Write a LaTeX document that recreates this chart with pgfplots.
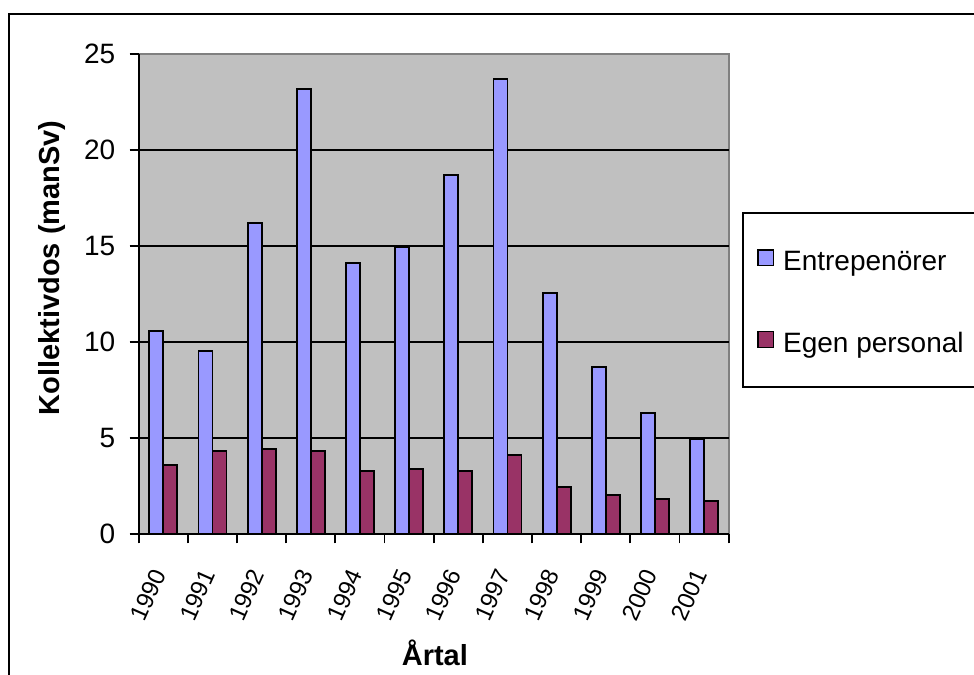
\documentclass[border=0pt]{standalone}
\usepackage{fontspec}
\setmainfont{Liberation Sans}
\usepackage{pgfplots}
\pgfplotsset{compat=1.18}
\definecolor{barblue}{HTML}{9999FF}
\definecolor{barred}{HTML}{993366}
\definecolor{bggray}{HTML}{C0C0C0}
\definecolor{edgegray}{HTML}{808080}
\newcommand\tf{\fontsize{14bp}{17bp}\selectfont}
\newcommand\xf{\fontsize{12bp}{14bp}\selectfont}
\newcommand\lf{\fontsize{14.5bp}{17bp}\selectfont\bfseries}

\begin{document}
\begin{tikzpicture}
\useasboundingbox (-69.35bp,-70.35bp) rectangle (417.65bp,267.15bp);
\begin{axis}[
  at={(0,0)}, anchor=south west,
  scale only axis, width=295bp, height=240bp,
  xmin=-0.5, xmax=11.5, ymin=0, ymax=25,
  ybar=0pt, bar width=7bp,
  /pgf/number format/assume math mode=true,
  axis background/.style={fill=bggray, draw=edgegray, line width=0.9bp},
  axis x line*=bottom, axis y line*=left,
  axis line style={black, line width=0.9bp, -},
  tick align=outside,
  xtick={0,...,11},
  xticklabels={1990,1991,1992,1993,1994,1995,1996,1997,1998,1999,2000,2001},
  major x tick style={draw=none},
  minor xtick={-0.5,0.5,...,11.5},
  minor x tick style={black, line width=0.9bp},
  minor tick length=4.5bp,
  xticklabel style={font=\xf, inner sep=0pt, xshift=-2bp, yshift=-13.5bp, rotate=66, anchor=east},
  ytick={0,5,10,15,20},
  extra y ticks={25},
  extra y tick style={grid=none},
  y tick style={black, line width=0.9bp},
  major tick length=4.5bp,
  yticklabel style={font=\tf, inner sep=0pt, xshift=-7bp},
  ymajorgrids,
  major y grid style={black, line width=0.9bp},
  xlabel={Årtal},
  xlabel style={font=\lf, at={(axis description cs:0.502,-0.2475)}, anchor=center},
  ylabel={Kollektivdos (manSv)},
  ylabel style={font=\lf, at={(axis description cs:-0.147,0.555)}, anchor=center, rotate=0},
  legend cell align=left,
  legend image code/.code={\draw[#1, line width=0.7bp] (0bp,-0.8bp) rectangle (7.8bp,7bp);},
  legend style={draw=none, fill=none, at={(rel axis cs:1.0475,0.48)}, anchor=west,
    inner sep=0pt, row sep=27bp, column sep=4.5bp, font=\tf,
    nodes={inner sep=0pt, text height=10bp, text depth=3bp}},
]
\addplot[fill=barblue, draw=black, line width=0.9bp] coordinates {
  (0,10.58) (1,9.54) (2,16.23) (3,23.19) (4,14.14) (5,14.98)
  (6,18.70) (7,23.70) (8,12.55) (9,8.72) (10,6.32) (11,4.97)
};
\addplot[fill=barred, draw=black, line width=0.9bp] coordinates {
  (0,3.60) (1,4.34) (2,4.45) (3,4.34) (4,3.30) (5,3.39)
  (6,3.29) (7,4.11) (8,2.47) (9,2.05) (10,1.82) (11,1.72)
};
\legend{Entrepenörer,Egen personal}
\end{axis}
% legend frame and outer chart frame
\draw[black, line width=0.9bp] (430bp,160.8bp) -- (302.3bp,160.8bp) -- (302.3bp,73.8bp) -- (430bp,73.8bp);
\draw[black, line width=1.1bp] (-64.9bp,-80bp) -- (-64.9bp,260.2bp) -- (430bp,260.2bp);
\end{tikzpicture}
\end{document}
